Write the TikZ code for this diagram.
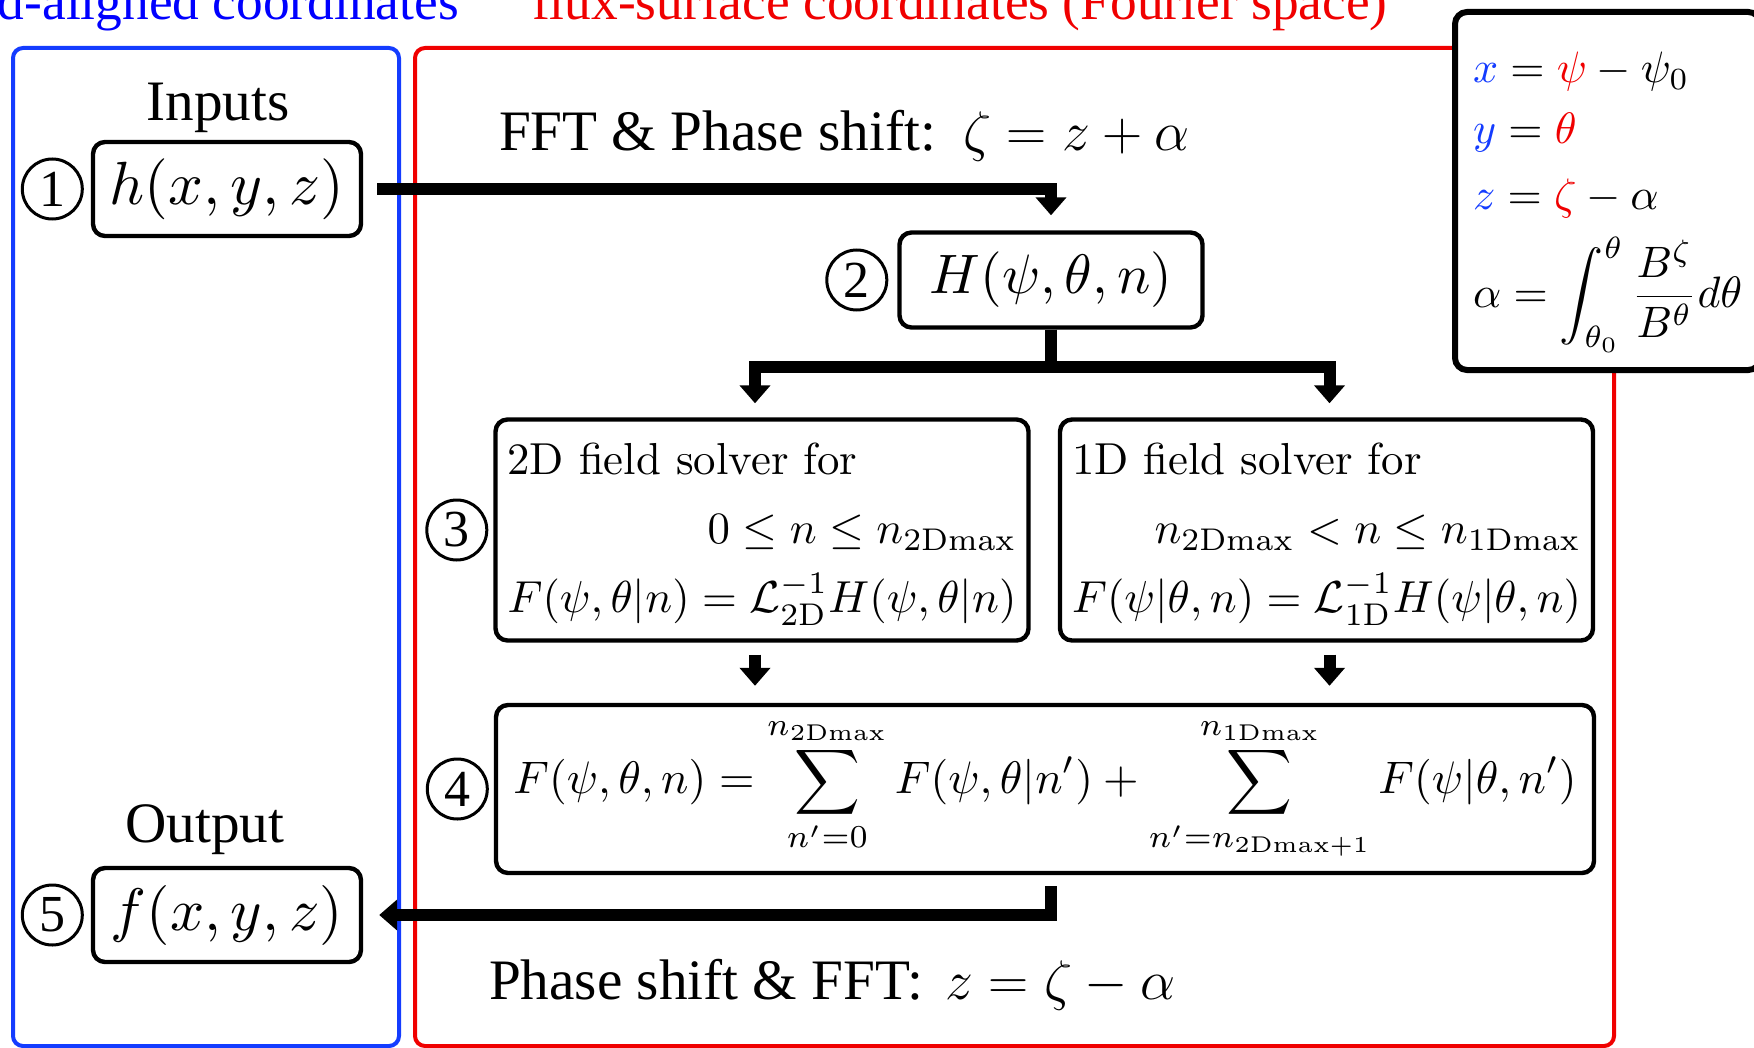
\documentclass[tikz,border=0pt]{standalone}
\usepackage{graphicx}
\usepackage{fontspec}
\newfontfamily\tms{Liberation Serif}
\usepackage{tikz}
\usetikzlibrary{arrows.meta, positioning, calc}
\definecolor{fal}{RGB}{20,60,255}
\definecolor{falt}{RGB}{0,0,255}
\definecolor{fsc}{RGB}{240,0,0}
% CM content is set at 10pt and blown up, as in the original figure
\newcommand\bigmath[2][1.12]{\scalebox{#1}{$#2$}}
\newcommand\nmax[1]{n_{\mathrm{#1Dmax}}}

\begin{document}
\begin{tikzpicture}[
    x=0.5pt, y=-0.5pt,
    frame/.style={draw=#1, line width=2pt, rounded corners=5pt},
    box/.style={rectangle, draw, rounded corners=6pt, line width=2.2pt, inner sep=0pt},
    fnbox/.style={box, minimum width=134pt, minimum height=47pt},
    num/.style={circle, draw, line width=1.5pt, inner sep=0pt, minimum size=30pt,
      font=\tms\fontsize{26}{26}\selectfont},
    lbl/.style={font=\tms\fontsize{28.6}{34}\selectfont, anchor=base west},
    ttl/.style={font=\tms\fontsize{26.7}{32}\selectfont},
    flow/.style={line width=6pt, -{Triangle[width=15pt,length=9pt]}},
    solver/.style={box, minimum width=266.5pt, minimum height=110.5pt}
  ]
  \useasboundingbox (0,0) rectangle (1754,1048);
  % coordinate frames
  \draw[frame=fal] (13,48) rectangle (399,1046);
  \draw[frame=fsc] (415,48) rectangle (1614,1046);
  \node[ttl, text=falt, anchor=base east] (ttlfa) at (466,20) {field-aligned coordinates};
  \node[ttl, text=fsc, anchor=base west] (ttlfs) at (525,20) {flux-surface coordinates (Fourier space)};

  % field-aligned side
  \node[fnbox] (hx) at (227,189) {\bigmath[3.05]{h(x,y,z)}};
  \node[num, left=3.5pt of hx] (n1) {1};
  \node[lbl, anchor=base] (inp) at (218,121) {Inputs};
  \node[fnbox] (fx) at (227,915) {\bigmath[3.0]{f(x,y,z)}};
  \node[num, left=3.5pt of fx] (n5) {5};
  \node[lbl, anchor=base] (outp) at (205,842) {Output};

  % flux-surface side
  \node[lbl] (fftlbl) at (492,151) {FFT \& Phase shift:\hspace{4pt} \bigmath{\zeta=z+\alpha}};
  \node[box, minimum width=151.5pt, minimum height=47.5pt] (Hn) at (1051,280) {\bigmath[2.78]{H(\psi,\theta,n)}};
  \node[num, left=4.5pt of Hn] (n2) {2};
  \node[solver] (s2d) at (762,530) {\scalebox{2.24}{\def\arraystretch{1.28}%
    \begin{tabular}{@{}l@{}}2D field solver for\\
      \hfill$0\le n\le \nmax{2}$\\
      $F(\psi,\theta|n)=\mathcal{L}^{-1}_{\mathrm{2D}}H(\psi,\theta|n)$\end{tabular}}};
  \node[num, left=2.5pt of s2d] (n3) {3};
  \node[solver] (s1d) at (1326.5,530) {\scalebox{2.24}{\def\arraystretch{1.28}%
    \begin{tabular}{@{}l@{}}1D field solver for\\
      \hfill$\nmax{2}<n\le \nmax{1}$\\
      $F(\psi|\theta,n)=\mathcal{L}^{-1}_{\mathrm{1D}}H(\psi|\theta,n)$\end{tabular}}};
  \node[box, minimum width=549pt, minimum height=84pt] (sum) at (1045,789)
    {\bigmath[2.28]{\displaystyle F(\psi,\theta,n)=\sum_{n'=0}^{\nmax{2}}F(\psi,\theta|n')
      +\sum_{n'=n_{\mathrm{2Dmax+1}}}^{\nmax{1}}F(\psi|\theta,n')}};
  \node[num, left=2.5pt of sum] (n4) {4};
  \node[lbl] (ifftlbl) at (482,999) {Phase shift \& FFT:\hspace{4pt} \bigmath{z=\zeta-\alpha}};

  % relations between the two
  \node[box, fill=white, line width=3pt, anchor=north west, inner xsep=9pt, inner ysep=4pt,
    minimum height=179pt] (rel) at (1452,9)
    {\scalebox{2.2}{\begin{tabular}{@{}l@{}}\rule{0pt}{12pt}${\color{fal}x}={\color{fsc}\psi}-\psi_0$\\[1.8pt]
     ${\color{fal}y}={\color{fsc}\theta}$\\[3.1pt]
     ${\color{fal}z}={\color{fsc}\zeta}-\alpha$\\[2.6pt]
     $\displaystyle\alpha=\int_{\theta_0}^{\theta}\frac{B^\zeta}{B^\theta}d\theta$\end{tabular}}};

  % flow
  \draw[flow] ($(hx.east)+(14,0)$) -| ($(Hn.north)+(0,-15)$);
  \draw[flow] (Hn.south) -- ++(0,37) -| ($(s2d.north)+(-7,-14)$);
  \draw[flow] (Hn.south) -- ++(0,37) -| ($(s1d.north)+(3,-14)$);
  \draw[flow] ($(s2d.south)+(-7,12)$) -- ($(s2d.south |- sum.north)+(-7,-17)$);
  \draw[flow] ($(s1d.south)+(3,12)$) -- ($(s1d.south |- sum.north)+(3,-17)$);
  \draw[flow] ($(sum.south -| Hn.south)+(0,11)$) |- ($(fx.east)+(16,0)$);
\end{tikzpicture}
\end{document}
